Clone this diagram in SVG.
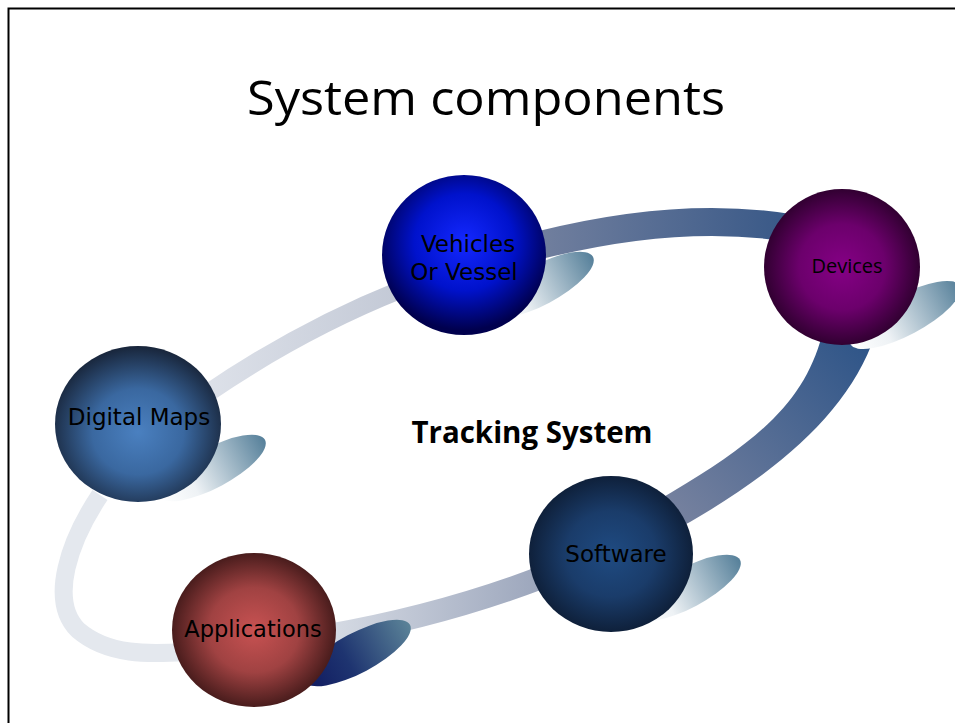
<svg xmlns="http://www.w3.org/2000/svg" width="955" height="723" viewBox="0 0 955 723">
<defs>
<style>
.lbl{font-family:"DejaVu Sans","Liberation Sans",sans-serif;fill:#000;text-anchor:middle}
.cal{font-family:"Open Sans","Liberation Sans",sans-serif;fill:#000}
</style>
<linearGradient id="shadowG" x1="0" y1="0" x2="1" y2="0">
<stop offset="0" stop-color="#ffffff"/>
<stop offset="0.3" stop-color="#eef2f5"/>
<stop offset="1" stop-color="#56809a"/>
</linearGradient>
<linearGradient id="shadowD" x1="0" y1="0" x2="1" y2="0">
<stop offset="0" stop-color="#101a60"/>
<stop offset="0.4" stop-color="#1e3470"/>
<stop offset="1" stop-color="#5b8398"/>
</linearGradient>
<linearGradient id="gTop" gradientUnits="userSpaceOnUse" x1="540" y1="0" x2="790" y2="0">
<stop offset="0" stop-color="#717f9e"/>
<stop offset="1" stop-color="#385887"/>
</linearGradient>
<linearGradient id="gRight" gradientUnits="userSpaceOnUse" x1="860" y1="340" x2="680" y2="510">
<stop offset="0" stop-color="#2f5588"/>
<stop offset="1" stop-color="#74809e"/>
</linearGradient>
<linearGradient id="gBottom" gradientUnits="userSpaceOnUse" x1="330" y1="0" x2="540" y2="0">
<stop offset="0" stop-color="#d6dbe4"/>
<stop offset="1" stop-color="#9ca6bc"/>
</linearGradient>
<linearGradient id="gLeftUp" gradientUnits="userSpaceOnUse" x1="205" y1="0" x2="400" y2="0">
<stop offset="0" stop-color="#dde1e9"/>
<stop offset="1" stop-color="#c3c9d6"/>
</linearGradient>
<radialGradient id="cVeh" cx="0.5" cy="0.42" r="0.55">
<stop offset="0" stop-color="#1428ff"/>
<stop offset="0.55" stop-color="#0012cc"/>
<stop offset="1" stop-color="#00004e"/>
</radialGradient>
<radialGradient id="cDev" cx="0.5" cy="0.5" r="0.55">
<stop offset="0" stop-color="#850085"/>
<stop offset="0.5" stop-color="#6c006c"/>
<stop offset="1" stop-color="#240024"/>
</radialGradient>
<radialGradient id="cMap" cx="0.5" cy="0.55" r="0.55">
<stop offset="0" stop-color="#4a80c0"/>
<stop offset="0.5" stop-color="#3a68a0"/>
<stop offset="1" stop-color="#18253a"/>
</radialGradient>
<radialGradient id="cApp" cx="0.5" cy="0.5" r="0.55">
<stop offset="0" stop-color="#c85252"/>
<stop offset="0.5" stop-color="#a04242"/>
<stop offset="1" stop-color="#361414"/>
</radialGradient>
<radialGradient id="cSw" cx="0.5" cy="0.5" r="0.55">
<stop offset="0" stop-color="#1f4b82"/>
<stop offset="0.5" stop-color="#1a3c6a"/>
<stop offset="1" stop-color="#0c1a30"/>
</radialGradient>
</defs>
<rect width="955" height="723" fill="#ffffff"/>
<path d="M8.5 723 V8.5 H955" fill="none" stroke="#000" stroke-width="2"/>
<text class="cal" x="486" y="115" font-size="48" text-anchor="middle" textLength="478" lengthAdjust="spacingAndGlyphs">System components</text>
<g id="connectors">
<path d="M100 495 C70 540 48 600 78 630 C108 656 150 654 185 652" fill="none" stroke="#e4e8ee" stroke-width="18"/>
<path d="M205 395 Q300 330 400 290" fill="none" stroke="url(#gLeftUp)" stroke-width="18"/>
<path d="M540 245 Q680 210 790 228" fill="none" stroke="url(#gTop)" stroke-width="28"/>
<path d="M875 335 C850 410 780 470 690 522 L640 548 L625 520 L672 492 C760 440 805 400 822 335 Z" fill="url(#gRight)"/>
<path d="M325 636 Q440 616 540 578" fill="none" stroke="url(#gBottom)" stroke-width="23"/>
</g>
<g id="shadows">
<ellipse cx="0" cy="0" rx="60" ry="20" fill="url(#shadowG)" transform="translate(540 285) rotate(-28)"/>
<ellipse cx="0" cy="0" rx="62" ry="20" fill="url(#shadowG)" transform="translate(905 315) rotate(-28)"/>
<ellipse cx="0" cy="0" rx="60" ry="20" fill="url(#shadowG)" transform="translate(212 468) rotate(-28)"/>
<ellipse cx="0" cy="0" rx="60" ry="20" fill="url(#shadowD)" transform="translate(357 653) rotate(-28)"/>
<ellipse cx="0" cy="0" rx="60" ry="20" fill="url(#shadowG)" transform="translate(687 588) rotate(-28)"/>
</g>
<g id="node-vehicles">
<ellipse cx="464" cy="255" rx="82" ry="80" fill="url(#cVeh)"/>
<text class="lbl" x="468" y="252" font-size="23">Vehicles</text>
<text class="lbl" x="464" y="280" font-size="23">Or Vessel</text>
</g>
<g id="node-devices">
<ellipse cx="842" cy="267" rx="78" ry="78" fill="url(#cDev)"/>
<text class="cal" x="847" y="273" font-size="20" text-anchor="middle">Devices</text>
</g>
<g id="node-digital-maps">
<ellipse cx="138" cy="424" rx="83" ry="78" fill="url(#cMap)"/>
<text class="lbl" x="139" y="425" font-size="23">Digital Maps</text>
</g>
<g id="node-applications">
<ellipse cx="254" cy="630" rx="82" ry="77" fill="url(#cApp)"/>
<text class="lbl" x="253" y="637" font-size="22.5">Applications</text>
</g>
<g id="node-software">
<ellipse cx="611" cy="554" rx="82" ry="78" fill="url(#cSw)"/>
<text class="lbl" x="616" y="562" font-size="23">Software</text>
</g>
<text class="cal" x="532" y="443" font-size="31" font-weight="bold" text-anchor="middle" textLength="241" lengthAdjust="spacingAndGlyphs">Tracking System</text>
</svg>
